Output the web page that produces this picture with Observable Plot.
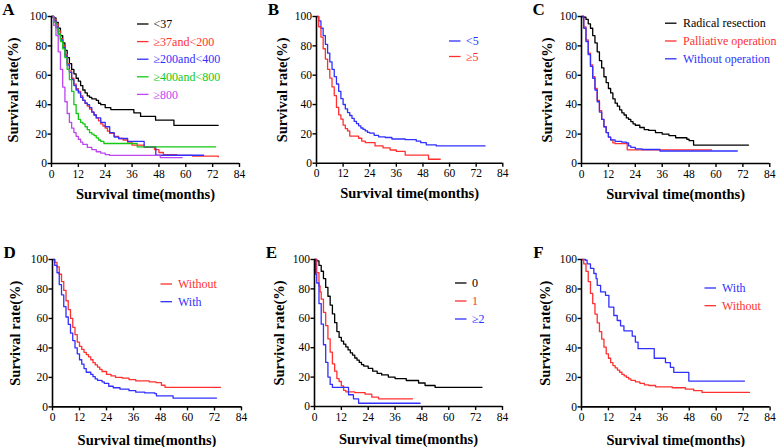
<!DOCTYPE html>
<html><head><meta charset="utf-8">
<script src="https://cdn.jsdelivr.net/npm/d3@7"></script>
<script src="https://cdn.jsdelivr.net/npm/@observablehq/plot@0.6"></script>
<style>
html,body{margin:0;padding:0;background:#fff;}
#chart{position:relative;width:777px;height:447px;overflow:hidden;background:#fff;}
#chart svg{position:absolute;overflow:visible;}
#chart svg, #chart svg text{font-family:"Liberation Serif","Times New Roman",serif !important;}
</style></head><body><div id="chart"></div>
<script>
// ---------- data (time in months, survival in %) ----------
const xTicks = [0, 12, 24, 36, 48, 60, 72, 84];
const yTicks = [0, 20, 40, 60, 80, 100];
const xTitle = "Survival time(months)";
const yTitle = "Survival rate(%)";

const groupsA = ["<37", "≥37and<200", "≥200and<400", "≥400and<800", "≥800"];
const A1 = [[0,100],[1,99],[2,96],[3,92],[4,87],[5,82],[6,77],[7,72],[8,68],[9,64],[10,61],[11,58],[12,56],[13,53],[14,50],[15,48],[16,46],[17,45],[18,44],[20,43],[21,41],[22,40],[24,38],[26.5,36.7],[36.8,34.5],[39.8,32],[46.5,29.5],[54.7,26],[74.5,26]];
const A2 = [[0,100],[1,98],[2,95],[3,90],[4,85],[5,80],[6,74],[7,68],[8,63],[9,58],[10,54],[11,51],[12,49],[13,46],[14,43],[15,41],[16,39],[17,37],[18,35],[19,33],[20,31],[21,29],[22,27],[23,25.5],[24,24],[25,22],[26,20.5],[28,18.5],[30,17],[32,16],[34,14.5],[36,12.5],[41.4,11],[46,9.5],[48,7.5],[50,6],[56,5.5],[63,5],[74.5,4.5]];
const A3 = [[0,100],[1,97],[2,93],[3,88],[4,84],[5,79],[6,73],[7,67],[8,62],[9,57],[10,53],[11,50],[12,48],[13,45],[14,43],[15,41],[16,40],[17,38],[18,35],[19,33],[20,31],[22,28],[24,25],[26,21],[28,18],[30,17],[34,15],[41.4,11.3],[46.6,5.6],[68,5.6]];
const A4 = [[0,100],[1,96],[2,92],[3,88],[4,83],[5,78],[6,72],[7,64],[8,57],[9,49],[10,40],[11,34],[12,30],[13,28],[14,27],[15,25],[16,23],[17,21],[18,20],[19,19],[20,17.5],[21,16],[22,15],[23.4,13.6],[38.3,11.3],[73.3,11.3]];
const A5 = [[0,100],[1,94],[2,87],[3,76],[4,64],[5,52],[6,42],[7,34],[8,28],[9,24],[10,21],[11,18.5],[12,16.5],[13,14.5],[14,13],[16,11],[18,9.5],[20,8],[22,7],[24,6],[26,5.5],[48.6,4],[58.4,4]];

const groupsB = ["<5", "≥5"];
const B1 = [[0,100],[1,97],[2,92],[3,87],[4,81],[5,75],[6,69],[7,64],[8,59],[9,54],[10,49],[11,44],[12,40],[13,37],[14,34.5],[15,32.5],[16,30.5],[17,28.5],[18,27],[19,25.5],[20,24],[21,23],[22,22],[23,21],[24,20.5],[26,19],[28,18],[31,17.5],[34,16.5],[40,16],[45,15],[47,14],[49.5,12.5],[54,11.8],[76,11.8]];
const B2 = [[0,100],[1,93],[2,86],[3,78],[4,71],[5,64],[6,58],[7,52],[8,46],[9,38],[10,33],[11,30],[12,26],[13,23.5],[14,22],[15,18.5],[19,17],[20.4,15],[22,14],[26.4,11.8],[30,10.5],[33.2,9],[36,8],[40,5.5],[50.5,2.7],[55.8,2.7]];

const groupsC = ["Radical resection", "Palliative operation", "Without operation"];
const C1 = [[0,100],[1,99.5],[2,98],[3,95],[4,92],[5,87],[6,82],[7,76],[8,70],[9,65],[10,59],[11,55],[12,51],[13,48],[14,44],[15,41],[16,39],[17,36.5],[18,34.5],[19,33],[20,31],[21,30],[22,28.5],[23,27],[24,26],[26,24.5],[28,23],[30,22.5],[33,21],[36,20],[39,19],[42,17.5],[47,16.5],[48,15.5],[50,12.5],[74.5,12.5]];
const C2 = [[0,100],[1,93],[2,84],[3,75],[4,67],[5,59],[6,51],[7,43],[8,36],[9,30],[10,25],[11,21],[12,18],[13,16],[14,14],[15,13.5],[20.4,9.3],[58,9.3]];
const C3 = [[0,100],[1,92],[2,83],[3,74],[4,66],[5,58],[6,50],[7,42],[8,35],[9,30],[10,25],[11,21],[12,18],[13,16],[15,15],[18,14.5],[20,14],[21,12],[22,11],[24,10],[27,9.5],[35,8.5],[69.5,8.5]];

const groupsD = ["Without", "With"];
const D1 = [[0,100],[1,98],[2,95],[3,90],[4,85],[5,79],[6,72],[7,66],[8,60],[9,54],[10,49],[11,44],[12,41],[13,39],[14,37],[15,35.5],[16,34],[17,32],[18,30],[19,28.5],[20,27],[21,25.5],[22,24],[24,22],[26,21],[28,20],[31,19.5],[34,18.5],[37,17.6],[43,17],[46,16.5],[48.4,14.7],[50,13.3],[74.7,13.3]];
const D2 = [[0,100],[1,96],[2,91],[3,83],[4,76],[5,68],[6,61],[7,56],[8,50],[9,45],[10,40],[11,36],[12,32],[13,29],[14,26],[15,23.5],[17,22],[18,20.5],[19,19],[20,18],[22,17],[23,16],[25,14],[27,13],[30,12],[34,11],[37,10],[41,9.5],[45.5,9],[46.2,7.5],[53.6,6],[72.9,6]];

const groupsE = ["0", "1", "≥2"];
const E1 = [[0,100],[1,99],[2,96],[3,92],[4,87],[5,81],[6,75],[7,69],[8,63],[9,57],[10,51],[11,47],[12,44.5],[13,42.5],[14,40.5],[15,38.5],[16,36.5],[17,35],[18,33],[19,31.5],[20,30],[21,28.5],[22,27.5],[24,26],[26,24],[28,22.5],[30,21.5],[33,20],[36,19],[41,17.7],[46.5,16],[49.4,14.3],[53.9,13],[74.8,13]];
const E2 = [[0,100],[1,91],[2,82],[2.5,78],[3,73],[4,64],[5,55],[6,46],[7,37],[8,29],[9,24],[10,19],[11,17],[12,14],[13,11],[14,10],[18,9.5],[22.6,8.4],[25.6,6.4],[28.6,5.2],[43.8,5.2]];
const E3 = [[0,100],[0.5,90],[1,84],[2,70],[3,56],[4,42],[5,30],[6,20],[7,15],[8,13],[13.7,13],[15.2,8],[17.4,5.2],[19.7,2.2],[47.2,2.2]];

const groupsF = ["With", "Without"];
const F1 = [[0,100],[1.8,99.5],[2.5,97],[4,94],[5.5,90.5],[6.5,87],[7,82.5],[8.5,78],[10.7,75.7],[12.2,67.7],[14.4,62],[15.9,58.6],[17.4,55],[18.9,51.6],[22.6,48],[24,44],[25.2,39.5],[32.4,33],[37.4,30],[39.6,26.8],[41.1,23.4],[47.8,17.5],[72.6,17.5]];
const F2 = [[0,100],[1,97],[2,92],[3,85],[4,77],[5,70],[6,63],[7,57],[8,51],[9,46],[10,40.5],[11,36],[12,33],[13,30],[14,28],[15,26.5],[16,25],[17,23.5],[18,22],[19,21],[20,20],[21,19],[22,18],[24,17],[26,16],[28,15],[30,14.5],[33,13.6],[40.4,13],[46.3,12],[50,11],[53.7,9.8],[74.8,9.8]];

// ---------- styling / layout ----------
const BLACK = "#000000", RED = "#ff3030", BLUE = "#3030ff", GREEN = "#14c814", PURPLE = "#bf45f0";
const FONT = "Liberation Serif, Times New Roman, serif";

const panels = [
  {letter:"A", names:groupsA, curves:[A1,A2,A3,A4,A5], colors:[BLACK,RED,BLUE,GREEN,PURPLE],
   fx:50.7, fy:15.7, fw:188, fh:147, titleDy:30.5, ytDx:-37.7, leg:{lx:86, tx:102.5, y0:8, dy:17.6}},
  {letter:"B", names:groupsB, curves:[B1,B2], colors:[BLUE,RED],
   fx:316, fy:16, fw:186.3, fh:146.7, titleDy:30.3, ytDx:-34.5, leg:{lx:133, tx:150, y0:25, dy:15.5}},
  {letter:"C", names:groupsC, curves:[C1,C2,C3], colors:[BLACK,RED,BLUE],
   fx:581, fy:15.7, fw:188.3, fh:147, titleDy:30.5, ytDx:-34.5, leg:{lx:84, tx:102, y0:7.2, dy:17.8}},
  {letter:"D", names:groupsD, curves:[D1,D2], colors:[RED,BLUE],
   fx:51.7, fy:259.3, fw:189, fh:147.4, titleDy:33.3, ytDx:-36.7, leg:{lx:108.5, tx:126, y0:25, dy:17.7}},
  {letter:"E", names:groupsE, curves:[E1,E2,E3], colors:[BLACK,RED,BLUE],
   fx:313.7, fy:259.3, fw:188, fh:147, titleDy:33.3, ytDx:-35.4, leg:{lx:141, tx:158, y0:24, dy:18}},
  {letter:"F", names:groupsF, curves:[F1,F2], colors:[BLUE,RED],
   fx:580.7, fy:259.3, fw:188.6, fh:147.4, titleDy:33.3, ytDx:-36.4, leg:{lx:123.5, tx:141, y0:29, dy:17.7}}
];

const mL = 50, mT = 18, mR = 12, mB = 42;
const chart = document.getElementById("chart");

for (const p of panels) {
  const rows = p.curves.flatMap((c, i) => c.map(([t, v]) => ({group: p.names[i], t, v})));
  const svg = Plot.plot({
    width: mL + p.fw + mR,
    height: mT + p.fh + mB,
    marginLeft: mL, marginTop: mT, marginRight: mR, marginBottom: mB,
    style: {fontFamily: FONT, fontSize: "11.5px", color: "#000", background: "transparent", overflow: "visible"},
    x: {domain: [0, 84]},
    y: {domain: [0, 100]},
    color: {domain: p.names, range: p.colors},
    marks: [
      Plot.line(rows, {x: "t", y: "v", z: "group", stroke: "group", curve: "step-after", strokeWidth: 1.3}),
      Plot.ruleX([0], {stroke: "#000", strokeWidth: 1.6}),
      Plot.ruleY([0], {stroke: "#000", strokeWidth: 1.6}),
      Plot.axisX({ticks: xTicks, tickSize: 4, tickPadding: 2, strokeWidth: 1.4, label: null, tickFormat: d => String(d), fontSize: 11.5}),
      Plot.axisY({ticks: yTicks, tickSize: 3.5, tickPadding: 1, strokeWidth: 1.4, label: null, tickFormat: d => String(d), fontSize: 11.5}),
      Plot.text([xTitle], {text: d => d, frameAnchor: "bottom", lineAnchor: "middle", textAnchor: "middle", dy: p.titleDy, fontWeight: "bold", fontSize: 14.5, fill: "#000"}),
      Plot.text([yTitle], {text: d => d, frameAnchor: "left", lineAnchor: "middle", textAnchor: "middle", rotate: -90, dx: p.ytDx, fontWeight: "bold", fontSize: 14.5, fill: "#000"}),
      Plot.text([p.letter], {text: d => d, frameAnchor: "top-left", lineAnchor: "middle", textAnchor: "middle", dx: -43, dy: -6.5, fontWeight: "bold", fontSize: 17, fill: "#000"})
    ]
  });
  svg.setAttribute("font-family", FONT);
  svg.style.left = (p.fx - mL) + "px";
  svg.style.top = (p.fy - mT) + "px";
  const g = d3.select(svg).append("g").attr("transform", `translate(${mL},${mT})`)
    .attr("text-anchor", "start");
  p.names.forEach((name, i) => {
    const y = p.leg.y0 + i * p.leg.dy;
    g.append("line").attr("x1", p.leg.lx).attr("x2", p.leg.lx + 11.5).attr("y1", y).attr("y2", y)
      .attr("stroke", p.colors[i]).attr("stroke-width", 1.3);
    g.append("text").attr("x", p.leg.tx).attr("y", y).attr("dy", "0.35em")
      .attr("text-anchor", "start")
      .attr("fill", p.colors[i]).attr("font-size", 12).text(name);
  });
  chart.appendChild(svg);
}
</script></body></html>
